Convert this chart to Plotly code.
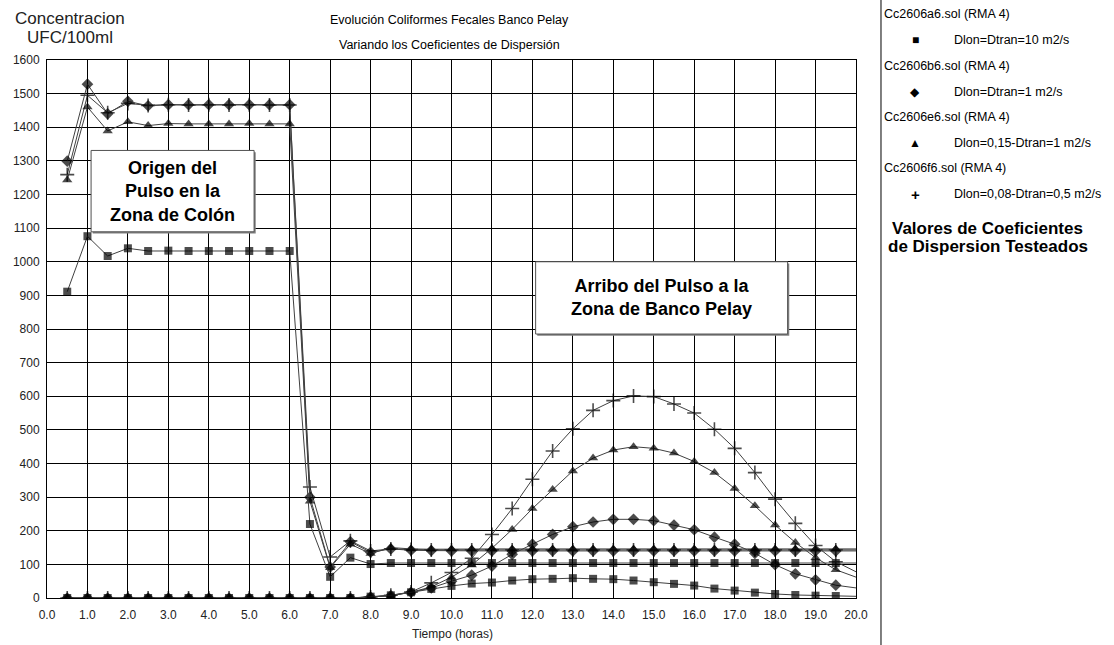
import plotly.graph_objects as go

# Simulation output times (hours)
hours = [0.5, 1.0, 1.5, 2.0, 2.5, 3.0, 3.5, 4.0, 4.5, 5.0,
         5.5, 6.0, 6.5, 7.0, 7.5, 8.0, 8.5, 9.0, 9.5, 10.0,
         10.5, 11.0, 11.5, 12.0, 12.5, 13.0, 13.5, 14.0, 14.5, 15.0,
         15.5, 16.0, 16.5, 17.0, 17.5, 18.0, 18.5, 19.0, 19.5, 20.0]

# Fecal coliforms at the Colón discharge zone (UFC/100ml)
colon_a6 = [911, 1076, 1017, 1040, 1032, 1033, 1032, 1032, 1032, 1032,
            1032, 1032, 220, 63, 120, 101, 104, 104, 104, 104,
            104, 104, 104, 104, 104, 104, 104, 104, 104, 104,
            104, 104, 104, 104, 104, 104, 104, 104, 104, 104]
colon_b6 = [1299, 1528, 1440, 1477, 1464, 1467, 1467, 1467, 1467, 1467,
            1467, 1467, 300, 92, 167, 136, 146, 142, 141, 140,
            140, 140, 140, 140, 140, 140, 140, 140, 140, 140,
            140, 140, 140, 140, 140, 140, 140, 140, 140, 140]
colon_e6 = [1243, 1460, 1389, 1416, 1405, 1411, 1410, 1410, 1410, 1411,
            1410, 1410, 288, 90, 160, 132, 150, 146, 145, 146,
            146, 146, 146, 146, 146, 146, 146, 146, 146, 146,
            146, 146, 146, 146, 146, 146, 146, 146, 146, 146]
colon_f6 = [1259, 1495, 1443, 1471, 1465, 1467, 1466, 1467, 1466, 1467,
            1466, 1466, 330, 122, 170, 140, 146, 144, 143, 143,
            143, 143, 143, 143, 143, 143, 143, 143, 143, 143,
            143, 143, 143, 143, 143, 143, 143, 143, 143, 143]

# Fecal coliforms at Banco Pelay (UFC/100ml)
pelay_a6 = [0, 0, 0, 0, 0, 0, 0, 0, 0, 0,
            0, 0, 0, 0, 0, 4, 8, 17, 27, 36,
            43, 46, 52, 56, 57, 59, 57, 56, 52, 47,
            42, 37, 28, 22, 16, 12, 9, 7, 6, 5]
pelay_b6 = [0, 0, 0, 0, 0, 0, 0, 0, 0, 0,
            0, 0, 0, 0, 0, 3, 7, 17, 30, 50,
            68, 95, 130, 160, 189, 212, 226, 234, 234, 230,
            217, 203, 181, 160, 133, 99, 72, 54, 38, 30]
pelay_e6 = [0, 0, 0, 0, 0, 0, 0, 0, 0, 0,
            0, 0, 0, 0, 0, 3, 7, 17, 33, 62,
            98, 148, 204, 266, 323, 378, 416, 440, 450, 445,
            431, 406, 373, 326, 274, 217, 165, 120, 84, 62]
pelay_f6 = [0, 0, 0, 0, 0, 0, 0, 0, 0, 0,
            0, 0, 0, 0, 0, 3, 8, 18, 45, 76,
            118, 189, 266, 353, 437, 503, 558, 587, 601, 599,
            577, 550, 502, 445, 373, 294, 222, 156, 108, 78]

run_names = ["Cc2606a6.sol (RMA 4)", "Cc2606b6.sol (RMA 4)",
             "Cc2606e6.sol (RMA 4)", "Cc2606f6.sol (RMA 4)"]
run_labels = ["Dlon=Dtran=10 m2/s", "Dlon=Dtran=1 m2/s",
              "Dlon=0,15-Dtran=1 m2/s", "Dlon=0,08-Dtran=0,5 m2/s"]
legend_glyphs = ["\u25A0", "\u25C6", "\u25B2", "+"]

FONT = "Liberation Sans, Arial, sans-serif"
LINE = "#404040"

styles = {
    "square": dict(symbol="square", size=8, line=dict(width=0)),
    "diamond": dict(symbol="diamond", size=9, line=dict(width=0)),
    "triangle": dict(symbol="triangle-up", size=9, line=dict(width=0)),
    "plus": dict(symbol="cross-thin", size=10, line=dict(width=1.6, color="black")),
}

# the last sample (t = 20 h) only closes the line at the right border
def sizes(base):
    return [base] * (len(hours) - 1) + [0]

fig = go.Figure()

series = [
    (colon_f6, "plus"), (colon_b6, "diamond"), (colon_e6, "triangle"), (colon_a6, "square"),
    (pelay_f6, "plus"), (pelay_e6, "triangle"), (pelay_b6, "diamond"), (pelay_a6, "square"),
]
for values, kind in series:
    st = dict(styles[kind])
    st["size"] = sizes(st["size"])
    st["color"] = "black"
    fig.add_trace(go.Scatter(
        x=hours, y=values, mode="lines+markers",
        line=dict(color=LINE, width=1),
        marker=st, showlegend=False, cliponaxis=True,
    ))

shapes = []
annotations = []

# callout boxes with a thin drop shadow
def callout(x0, x1, y0, y1, text):
    shapes.append(dict(type="rect", xref="x", yref="y", x0=x0 + 0.04, x1=x1 + 0.04,
                       y0=y0 - 5, y1=y1 - 5, fillcolor="#808080",
                       line=dict(width=0), layer="above"))
    shapes.append(dict(type="rect", xref="x", yref="y", x0=x0, x1=x1, y0=y0, y1=y1,
                       fillcolor="white", line=dict(color="#505050", width=1),
                       layer="above"))
    annotations.append(dict(x=(x0 + x1) / 2, y=(y0 + y1) / 2, xref="x", yref="y",
                            text=text, showarrow=False,
                            font=dict(family=FONT, size=18, color="black")))

callout(1.09, 5.12, 1089, 1331, "<b>Origen del<br>Pulso en la<br>Zona de Colón</b>")
callout(12.08, 18.31, 785, 1000, "<b>Arribo del Pulso a la<br>Zona de Banco Pelay</b>")

# separator between plot and key
shapes.append(dict(type="line", xref="paper", yref="paper", x0=1.0309, x1=1.0309,
                   y0=-0.09, y1=1.12, line=dict(color="black", width=1)))

W, H = 1114, 645
L, R, T, B = 47, 258, 60, 47
pw, ph = W - L - R, H - T - B

def px(xp):
    return (xp - L) / pw

def py(yp):
    return (H - B - yp) / ph

def text_at(xp, yp, text, size=11, anchor="left", bold=False, color="black"):
    annotations.append(dict(x=px(xp), y=py(yp), xref="paper", yref="paper",
                            text=f"<b>{text}</b>" if bold else text,
                            showarrow=False, xanchor=anchor, yanchor="middle",
                            font=dict(family=FONT, size=size, color=color)))

# titles
text_at(449, 20, "Evolución Coliformes Fecales Banco Pelay", size=12.5, anchor="center")
text_at(449, 45, "Variando los Coeficientes de Dispersión", size=12.5, anchor="center")
text_at(70, 18, "Concentracion", size=17, anchor="center", color="#222")
text_at(70, 37, "UFC/100ml", size=17, anchor="center", color="#222")
text_at(452, 634, "Tiempo (horas)", size=12, anchor="center", color="#222")

# key
row_y = [14, 40, 66, 92, 117, 143, 168, 194]
for i in range(4):
    text_at(882, row_y[2 * i], run_names[i], size=12.5)
    text_at(915, row_y[2 * i + 1], legend_glyphs[i],
            size=15 if legend_glyphs[i] == "+" else 12, anchor="center", bold=(i == 3))
    text_at(952, row_y[2 * i + 1], run_labels[i], size=12.5)
text_at(988, 228, "Valores de Coeficientes", size=17, anchor="center", bold=True)
text_at(988, 246, "de Dispersion Testeados", size=17, anchor="center", bold=True)

fig.update_layout(
    width=W, height=H,
    margin=dict(l=L, r=R, t=T, b=B, pad=0),
    paper_bgcolor="white", plot_bgcolor="white",
    shapes=shapes, annotations=annotations,
    font=dict(family=FONT, color="#222"),
    xaxis=dict(range=[0, 20], dtick=1, tick0=0, tickformat=".1f",
               showgrid=True, gridcolor="black", gridwidth=1,
               showline=True, linecolor="black", linewidth=1, mirror=True,
               zeroline=False, ticks="", ticklabelstandoff=6,
               tickfont=dict(size=12, family=FONT)),
    yaxis=dict(range=[0, 1600], dtick=100, tick0=0,
               showgrid=True, gridcolor="black", gridwidth=1,
               showline=True, linecolor="black", linewidth=1, mirror=True,
               zeroline=False, ticks="", ticklabelstandoff=4,
               tickfont=dict(size=12, family=FONT)),
)

fig.write_html("out.html")
